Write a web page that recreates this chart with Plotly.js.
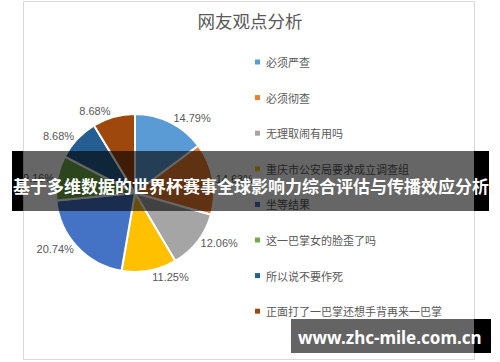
<!DOCTYPE html>
<html>
<head>
<meta charset="utf-8">
<script src="https://cdn.plot.ly/plotly-3.0.1.min.js"></script>
<style>html,body{margin:0;padding:0;background:#fff;}#chart{width:500px;height:362px;}</style>
</head>
<body>
<div id="chart"></div>
<script>
var categories = ['必须严查', '必须彻查', '无理取闹有用吗', '重庆市公安局要求成立调查组', '坐等结果', '这一巴掌女的脸歪了吗', '所以说不要作死', '正面打了一巴掌还想手背再来一巴掌'];
var shares = [14.79, 14.63, 12.06, 11.25, 20.74, 9.16, 8.68, 8.68];
var colors = ['#5B9BD5', '#ED7D31', '#A5A5A5', '#FFC000', '#4472C4', '#70AD47', '#255E91', '#9E480E'];
var chartTitle = '网友观点分析';
var bannerText = '基于多维数据的世界杯赛事全球影响力综合评估与传播效应分析';
var watermarkText = 'www.zhc-mile.com.cn';

var W = 500, H = 362;
function px(x) { return x / W; }
function py(y) { return 1 - y / H; }

var CJK = '"Noto Sans CJK SC", "Noto Sans", sans-serif';

var trace = {
  type: 'pie',
  labels: categories,
  values: shares,
  sort: false,
  direction: 'clockwise',
  rotation: 0,
  marker: { colors: colors, line: { color: '#ffffff', width: 2 } },
  textposition: 'outside',
  texttemplate: '%{value:.2f}%',
  textfont: { family: '"Liberation Sans", Arial, sans-serif', size: 11, color: '#595959' },
  hoverinfo: 'none',
  domain: { x: [px(56), px(214)], y: [py(272), py(114)] }
};

var shapes = [
  { type: 'rect', xref: 'paper', yref: 'paper', x0: px(23.5), x1: px(474.5), y0: py(359.5), y1: py(1.5),
    line: { color: '#D9D9D9', width: 1 }, fillcolor: 'rgba(0,0,0,0)', layer: 'below' }
];
var annotations = [];

var legendTop = 62, legendStep = 35.6;
categories.forEach(function (c, i) {
  var yc = legendTop + i * legendStep;
  shapes.push({ type: 'rect', xref: 'paper', yref: 'paper', x0: px(255), x1: px(260), y0: py(yc + 2.5), y1: py(yc - 2.5),
    line: { width: 0 }, fillcolor: colors[i], layer: 'above' });
  annotations.push({ xref: 'paper', yref: 'paper', x: px(264), y: py(yc), xanchor: 'left', yanchor: 'middle',
    showarrow: false, text: c, font: { family: CJK, size: 11, color: '#595959' } });
});

function box(x0, x1, y0, y1, color) {
  return { xref: 'paper', yref: 'paper', x: px(x0), y: py(y0), xanchor: 'left', yanchor: 'top',
    width: x1 - x0, height: y1 - y0, borderpad: 0, borderwidth: 0, showarrow: false, text: ' ',
    bgcolor: color, font: { size: 1 } };
}
// banner overlay
annotations.push(box(23, 474, 151, 211, 'rgba(0,0,0,0.6)'));
annotations.push(box(12, 23, 151, 211, '#000000'));
annotations.push(box(474, 489, 151, 211, '#000000'));
annotations.push({ xref: 'paper', yref: 'paper', x: px(250.5), y: py(185), xanchor: 'center', yanchor: 'middle',
  showarrow: false, text: '<b>' + bannerText + '</b>', font: { family: CJK, size: 17, color: '#ffffff' } });
// watermark
annotations.push(box(291, 474, 319, 353, '#646464'));
annotations.push(box(474, 491, 319, 353, '#000000'));
annotations.push({ xref: 'paper', yref: 'paper', x: px(390), y: py(337), xanchor: 'center', yanchor: 'middle',
  showarrow: false, text: '<b>' + watermarkText + '</b>', font: { family: '"Noto Sans", sans-serif', size: 17, color: '#ffffff' } });

var layout = {
  width: W, height: H,
  margin: { l: 0, r: 0, t: 0, b: 0 },
  paper_bgcolor: '#ffffff',
  showlegend: false,
  title: { text: chartTitle, x: 0.5, xanchor: 'center', y: py(22), yanchor: 'middle',
    font: { family: CJK, size: 17.5, color: '#595959' } },
  shapes: shapes,
  annotations: annotations
};

Plotly.newPlot('chart', [trace], layout, { displayModeBar: false, staticPlot: true });
</script>
</body>
</html>
